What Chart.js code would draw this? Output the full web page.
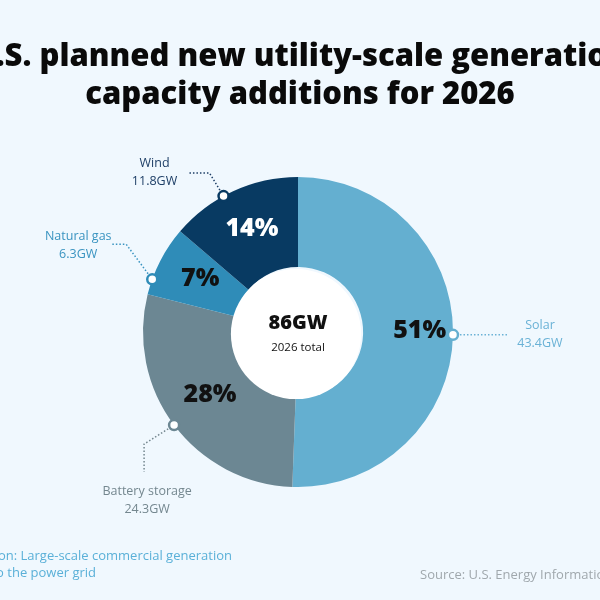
<!DOCTYPE html>
<html>
<head>
<meta charset="utf-8">
<script src="https://cdn.jsdelivr.net/npm/chart.js@4"></script>
<style>
  html, body { margin: 0; padding: 0; background: #f0f8fe; }
  #wrap { width: 600px; height: 600px; }
</style>
</head>
<body>
<div id="wrap"><canvas id="myChart" width="600" height="600"></canvas></div>
<script>
// data, clockwise from 12 o'clock
const sources = ["Solar", "Battery storage", "Natural gas", "Wind"]
const capacityGW = [43.4, 24.3, 6.3, 11.8]
const titleLines = ["U.S. planned new utility-scale generation", "capacity additions for 2026"]
const centerSubtitle = "2026 total"
const noteLines = ["on: Large-scale commercial generation", "y to the power grid"]
const sourceNote = "Source: U.S. Energy Information Administration"

const sliceColors = ["#64afd0", "#6c8793", "#2f8cb8", "#083a62"]
const labelColors = ["#6ab2d6", "#74878f", "#3a94c1", "#1d3e66"]
const pctColors = ["#111111", "#111111", "#111111", "#ffffff"]
const FONT = "'Open Sans', Lato, sans-serif"

// where the callout dot sits along each slice, and the leader path (offsets from the dot)
const calloutAt = [0.5, 0.5, 0.22, 0.42]
const leaders = [
	[[7, 0], [55, 0]],
	[[-30, 19], [-30, 47]],
	[[-26, -35], [-40, -35]],
	[[-14, -23], [-36, -23]]
]
const labelOffsets = [[87, -9], [-27, 66], [-74, -43], [-69, -33]]
const pctRadius = [0.63, 0.5, 0.5, 0.5]

const total = capacityGW.reduce((a, b) => a + b, 0)

const doughnutText = {
	id: "doughnutText",
	afterDatasetsDraw(chart) {
		const ctx = chart.ctx
		const meta = chart.getDatasetMeta(0)
		ctx.save()
		ctx.textAlign = "center"
		ctx.textBaseline = "middle"

		// title (drawn by hand so the long first line is not squeezed)
		ctx.fillStyle = "#0a0a0a"
		ctx.font = "800 31px " + FONT
		ctx.fillText(titleLines[0], 300, 57)
		ctx.fillText(titleLines[1], 300, 95)

		meta.data.forEach((arc, i) => {
			const p = arc.getProps(["x", "y", "startAngle", "endAngle", "innerRadius", "outerRadius"], true)
			// percentage inside slice
			const mid = (p.startAngle + p.endAngle) / 2
			const r = p.innerRadius + (p.outerRadius - p.innerRadius) * pctRadius[i]
			ctx.fillStyle = pctColors[i]
			ctx.font = "800 25px " + FONT
			ctx.fillText(Math.round(capacityGW[i] / total * 100) + "%", p.x + Math.cos(mid) * r, p.y + Math.sin(mid) * r - 3)

			// callout
			const a = p.startAngle + (p.endAngle - p.startAngle) * calloutAt[i]
			const dx = p.x + Math.cos(a) * p.outerRadius
			const dy = p.y + Math.sin(a) * p.outerRadius
			ctx.strokeStyle = labelColors[i]
			ctx.lineWidth = 1.5
			ctx.setLineDash([1.5, 2])
			ctx.beginPath()
			ctx.moveTo(dx, dy)
			leaders[i].forEach(pt => ctx.lineTo(dx + pt[0], dy + pt[1]))
			ctx.stroke()
			ctx.setLineDash([])

			ctx.beginPath()
			ctx.arc(dx, dy, 5, 0, Math.PI * 2)
			ctx.fillStyle = "#ffffff"
			ctx.fill()
			ctx.lineWidth = 2.5
			ctx.strokeStyle = sliceColors[i]
			ctx.stroke()

			const lx = dx + labelOffsets[i][0]
			const ly = dy + labelOffsets[i][1]
			ctx.fillStyle = labelColors[i]
			ctx.font = "12.5px " + FONT
			ctx.fillText(sources[i], lx, ly)
			ctx.fillText(capacityGW[i].toFixed(1) + "GW", lx, ly + 18)
		})

		// center
		const c = meta.data[0]
		ctx.beginPath()
		ctx.arc(c.x - 2, c.y + 2, c.innerRadius, 0, Math.PI * 2)
		ctx.fillStyle = "#ffffff"
		ctx.fill()
		ctx.fillStyle = "#111111"
		ctx.font = "800 20px " + FONT
		ctx.fillText(Math.round(total) + "GW", c.x, c.y - 9)
		ctx.font = "11.5px " + FONT
		ctx.fillText(centerSubtitle, c.x, c.y + 16)

		// footer notes
		ctx.font = "13px " + FONT
		ctx.textAlign = "right"
		ctx.fillStyle = "#5ab0d8"
		ctx.fillText(noteLines[0], 232, 556)
		ctx.fillText(noteLines[1], 96, 573)
		ctx.textAlign = "left"
		ctx.fillStyle = "#a0a8ad"
		ctx.fillText(sourceNote, 420, 575)
		ctx.restore()
	}
}

new Chart("myChart", {
	type: "doughnut",
	data: {
		labels: sources,
		datasets: [{
			data: capacityGW,
			backgroundColor: sliceColors,
			borderWidth: 0,
			hoverOffset: 0
		}]
	},
	options: {
		responsive: false,
		animation: false,
		cutout: "42%",
		layout: {
			padding: { top: 177, left: 143, right: 147, bottom: 113 }
		},
		plugins: {
			legend: { display: false },
			tooltip: { enabled: false },
			title: { display: false }
		}
	},
	plugins: [doughnutText]
})
</script>
</body>
</html>
